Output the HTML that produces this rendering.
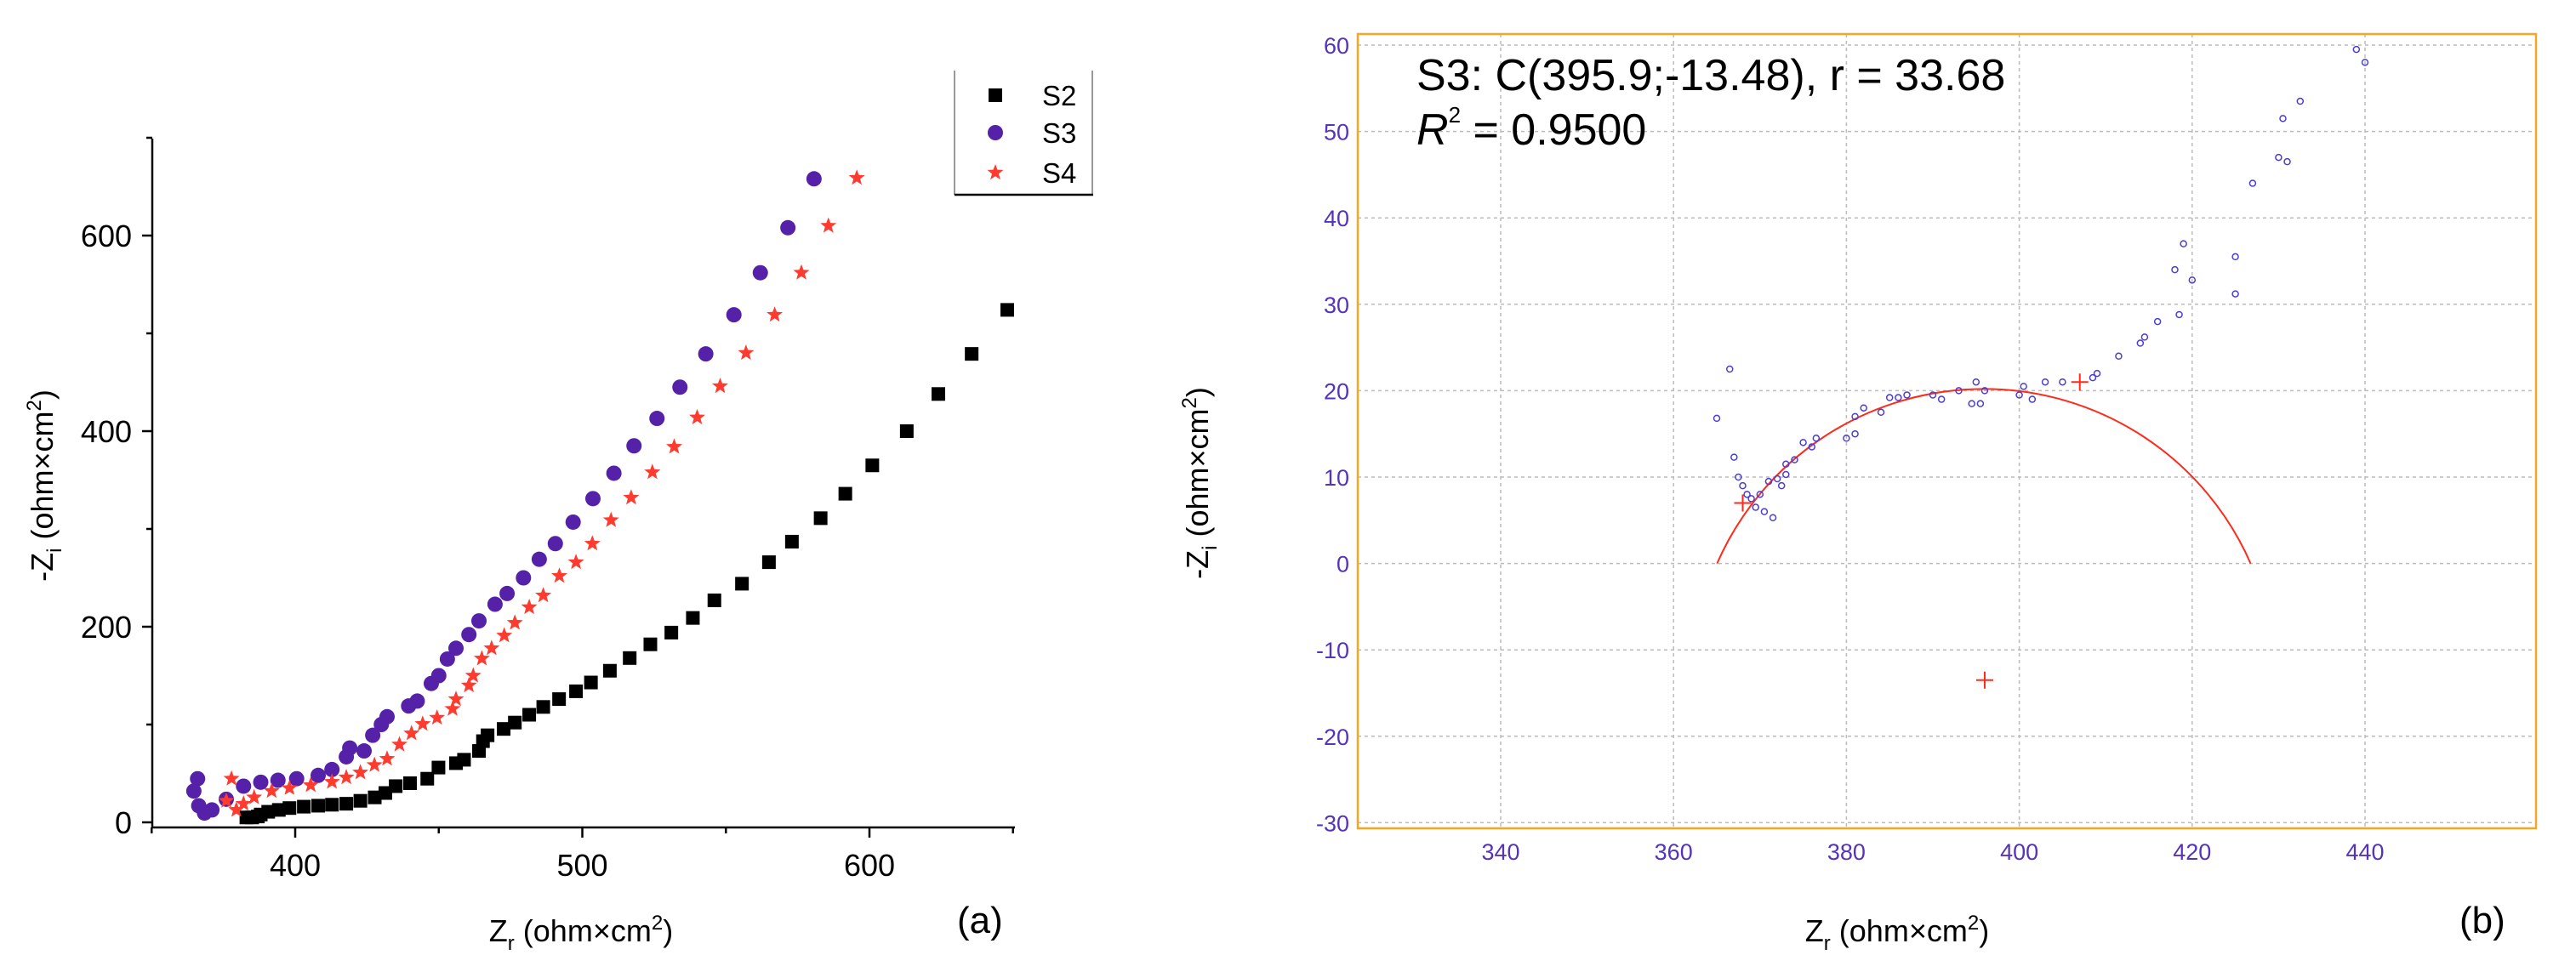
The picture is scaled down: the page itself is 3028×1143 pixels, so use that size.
<!DOCTYPE html>
<html><head><meta charset="utf-8"><style>
html,body{margin:0;padding:0;background:#fff;}
svg{display:block;font-family:"Liberation Sans",sans-serif;}
</style></head><body>
<svg id="chart" width="3028" height="1143" viewBox="0 0 3028 1143">
<g id="left"></g>
<g id="right"></g>
</svg>
<script>
// ---- Panel (a) data ----
const aXTicks = [400, 500, 600];
const aYTicks = [0, 200, 400, 600];
const s2x = [383,385,387,388,390.6,394.3,398,403,408,412.8,417.8,422.7,427.7,431.4,435,440,446,449.9,456,458.8,464,465.4,467,472.6,476.5,481.5,486.4,491.9,497.8,503,509.6,516.5,523.7,531,538.5,546,555.6,565,573,583,591.6,601,613,624,635.6,648];
const s2y = [5,5,6,8,10.8,12.7,14.6,16,17,18,19,22,25.5,30,37,40,44.6,56,60.5,64,73,83,89,95.5,102,110,118,126,134,143,155,168,182,194,209,227,244,266,287,311,336,365,400,438,479,524];
const s3x = [366,364.7,366.4,368.4,371,376,382,388,394,400.5,408,412.8,417.8,419,424,427,430,432,439.5,442.5,447.4,450,453,456,460.5,464,469.6,473.8,479.5,485,490.6,496.8,503.7,511,518,526,534,543,552.8,562,571.6,580.7];
const s3y = [44.6,32,17,9.5,12.7,23.6,37,41,43,44.6,48,54,67,76,73,89,100,108,119,124,142,150,167,178,192,206,223,234,250,269,285,307,331,357,385,413,445,479,519,562,608,658];
const s4x = [377.8,376,379.5,382,385.7,391.8,398,405.4,412.8,417.8,422.7,427.6,432,436.3,440.5,444.4,449.4,454.8,456,460.5,462,465,468.4,472.8,476.5,481.5,486.4,492,497.8,503.5,510,517,524.4,532,540,548,557,567,576.3,585.7,595.6];
const s4y = [44.6,22,12.7,19,25.5,32,35,38,41.4,46,51,58.6,65,79.6,91,100.6,107,116,126,140,150,167.5,178,191,204,220,232,252,266,285,309,332,358,384,414,446,480,519,562,610,659];
// ---- Panel (b) data ----
const bXTicks = [340, 360, 380, 400, 420, 440];
const bYTicks = [-30, -20, -10, 0, 10, 20, 30, 40, 50, 60];
const bx = [365,366.5,367,367.5,368,368.5,369,369.5,370,370.5,371,371.5,372,372.5,373,373,374,375,376,376.5,380,381,381,382,384,385,386,387,390,391,393,394.5,395,395.5,396,400,400.5,401.5,403,405,408.5,409,411.5,414,414.5,416,418,418.5,419,420,425,425,427,430,430.5,431,432.5,439,440];
const by = [16.8,22.5,12.3,10,9,8,7.5,6.5,8,6,9.5,5.3,9.8,9,10.3,11.5,12,14,13.5,14.5,14.5,15,17,18,17.5,19.2,19.2,19.5,19.5,19,20,18.5,21,18.5,20,19.5,20.5,19,21,21,21.5,22,24,25.5,26.2,28,34,28.8,37,32.8,31.2,35.5,44,47,51.5,46.5,53.5,59.5,58];
const fitCenter = [395.9, -13.48];
const fitRadius = 33.68;
const crossX = [396, 407, 368];
const crossY = [-13.5, 21, 7];

const NS = "http://www.w3.org/2000/svg";
function mk(parent, tag, attrs, text){
  const e = document.createElementNS(NS, tag);
  for (const k in attrs) e.setAttribute(k, attrs[k]);
  if (text !== undefined) e.textContent = text;
  parent.appendChild(e);
  return e;
}

// ---------- Panel A ----------
const L = document.getElementById('left');
const ax = v => 347 + (v - 400) * 3.375;
const ay = v => 967 - v * 1.15;
let e;
e = mk(L, 'line', {x1:179, y1:973, x2:1193, y2:973, stroke:'#000', 'stroke-width':2.5});
 
e = mk(L, 'line', {x1:179, y1:163, x2:179, y2:973, stroke:'#000', 'stroke-width':2.5});
 
aXTicks.forEach(t => {
  mk(L, 'line', {x1:ax(t), y1:973, x2:ax(t), y2:985, stroke:'#000', 'stroke-width':2.5});
  mk(L, 'line', {x1:ax(t+50), y1:973, x2:ax(t+50), y2:980, stroke:'#000', 'stroke-width':2.5});
  e = mk(L, 'text', {x:ax(t), y:1030, 'font-size':36, 'text-anchor':'middle'}, String(t));
   
});
mk(L, 'line', {x1:ax(350), y1:973, x2:ax(350), y2:980, stroke:'#000', 'stroke-width':2.5});
aYTicks.forEach(t => {
  mk(L, 'line', {x1:167, y1:ay(t), x2:179, y2:ay(t), stroke:'#000', 'stroke-width':2.5});
  mk(L, 'line', {x1:172, y1:ay(t+100), x2:179, y2:ay(t+100), stroke:'#000', 'stroke-width':2.5});
  e = mk(L, 'text', {x:155, y:ay(t)+13, 'font-size':36, 'text-anchor':'end'}, String(t));
   
});
e = mk(L, 'text', {x:683, y:1107, 'font-size':36, 'text-anchor':'middle'});
e.innerHTML = 'Z<tspan font-size="24" dy="10">r</tspan><tspan dy="-10"> (ohm×cm</tspan><tspan font-size="24" dy="-14">2</tspan><tspan dy="14">)</tspan>';
 
e = mk(L, 'text', {x:0, y:0, 'font-size':36, 'text-anchor':'middle', transform:'translate(62,571) rotate(-90)'});
e.innerHTML = '-Z<tspan font-size="24" dy="10">i</tspan><tspan dy="-10"> (ohm×cm</tspan><tspan font-size="24" dy="-14">2</tspan><tspan dy="14">)</tspan>';
 
e = mk(L, 'text', {x:1125, y:1097, 'font-size':44}, '(a)');
 

function starPts(cx, cy, R){
  const r = R * 0.42; let p = [];
  for (let i = 0; i < 10; i++){ const a = -Math.PI/2 + i*Math.PI/5; const rr = i%2 ? r : R; p.push((cx+rr*Math.cos(a)).toFixed(1)+','+(cy+rr*Math.sin(a)).toFixed(1)); }
  return p.join(' ');
}
s2x.forEach((v, i) => {
  e = mk(L, 'rect', {x:ax(v)-8, y:ay(s2y[i])-8, width:16, height:16, fill:'#000'});
   
});
s3x.forEach((v, i) => {
  e = mk(L, 'circle', {cx:ax(v), cy:ay(s3y[i]), r:9, fill:'#5521a8'});
   
});
s4x.forEach((v, i) => {
  e = mk(L, 'polygon', {points:starPts(ax(v), ay(s4y[i]), 10), fill:'#ff3b30'});
   
});
// legend
const lg = mk(L, 'g', {});
 
mk(lg, 'line', {x1:1122, y1:83, x2:1122, y2:229, stroke:'#999', 'stroke-width':2});
mk(lg, 'line', {x1:1284, y1:83, x2:1284, y2:229, stroke:'#999', 'stroke-width':2});
mk(lg, 'line', {x1:1122, y1:229, x2:1285, y2:229, stroke:'#000', 'stroke-width':2.5});
e = mk(lg, 'rect', {x:1162, y:104, width:16, height:16, fill:'#000'});
 
e = mk(lg, 'circle', {cx:1170, cy:156, r:9, fill:'#5521a8'});
 
e = mk(lg, 'polygon', {points:starPts(1170, 203, 10), fill:'#ff3b30'});
 
['S2','S3','S4'].forEach((s, i) => {
  e = mk(lg, 'text', {x:1225, y:[124,168,215][i], 'font-size':33}, s);
   
});

// ---------- Panel B ----------
const R = document.getElementById('right');
const bxs = v => 1764 + (v - 340) * 10.16;
const bys = v => 53 + (60 - v) * 10.16;
const grid = mk(R, 'g', {stroke:'#bbb', 'stroke-width':1.5, 'stroke-dasharray':'4,4'});
 
bXTicks.forEach(t => {
  mk(grid, 'line', {x1:bxs(t), y1:40, x2:bxs(t), y2:974});
  e = mk(R, 'text', {x:bxs(t), y:1011, 'font-size':27, 'text-anchor':'middle', fill:'#5533bb'}, String(t));
   
});
bYTicks.forEach(t => {
  mk(grid, 'line', {x1:1596, y1:bys(t), x2:2981, y2:bys(t)});
  e = mk(R, 'text', {x:1586, y:bys(t)+10, 'font-size':27, 'text-anchor':'end', fill:'#5533bb'}, String(t));
   
});
e = mk(R, 'rect', {x:1596, y:40, width:1385, height:934, fill:'none', stroke:'#f5a623', 'stroke-width':2.5});
 
// fitted circle arc (above y=0)
const dy0 = fitCenter[1];
const halfW = Math.sqrt(fitRadius*fitRadius - dy0*dy0);
const x0 = fitCenter[0] - halfW, x1 = fitCenter[0] + halfW;
const rp = fitRadius * 10.16;
e = mk(R, 'path', {d:`M${bxs(x0)},${bys(0)} A${rp},${rp} 0 0 1 ${bxs(x1)},${bys(0)}`, fill:'none', stroke:'#ff2a1a', 'stroke-width':2});
 
crossX.forEach((v, i) => {
  const cx = bxs(v), cy = bys(crossY[i]);
  e = mk(R, 'path', {d:`M${cx-10},${cy}H${cx+10}M${cx},${cy-10}V${cy+10}`, stroke:'#ff2a1a', 'stroke-width':2});
   
});
bx.forEach((v, i) => {
  e = mk(R, 'circle', {cx:bxs(v), cy:bys(by[i]), r:3.5, fill:'none', stroke:'#4a3fcf', 'stroke-width':1.5});
   
});
e = mk(R, 'text', {x:1665, y:106, 'font-size':52}, 'S3: C(395.9;-13.48), r = 33.68');
 
e = mk(R, 'text', {x:1665, y:170, 'font-size':52});
e.innerHTML = '<tspan font-style="italic">R</tspan><tspan font-size="26" dy="-26">2</tspan><tspan dy="26"> = 0.9500</tspan>';
 
e = mk(R, 'text', {x:2230, y:1107, 'font-size':36, 'text-anchor':'middle'});
e.innerHTML = 'Z<tspan font-size="24" dy="10">r</tspan><tspan dy="-10"> (ohm×cm</tspan><tspan font-size="24" dy="-14">2</tspan><tspan dy="14">)</tspan>';
 
e = mk(R, 'text', {x:0, y:0, 'font-size':36, 'text-anchor':'middle', transform:'translate(1420,568) rotate(-90)'});
e.innerHTML = '-Z<tspan font-size="24" dy="10">i</tspan><tspan dy="-10"> (ohm×cm</tspan><tspan font-size="24" dy="-14">2</tspan><tspan dy="14">)</tspan>';
 
e = mk(R, 'text', {x:2891, y:1097, 'font-size':44}, '(b)');
 
</script>
</body></html>
